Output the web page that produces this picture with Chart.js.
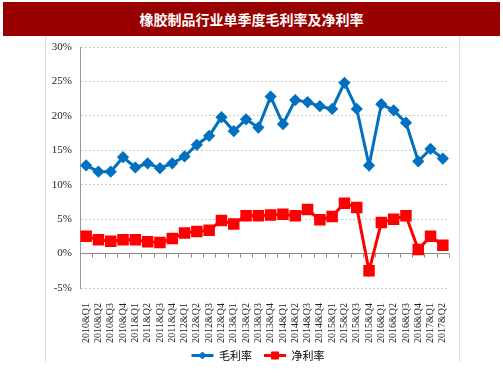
<!DOCTYPE html>
<html><head><meta charset="utf-8">
<script src="https://cdn.jsdelivr.net/npm/chart.js@4/dist/chart.umd.min.js"></script>
<style>
html,body{margin:0;padding:0;background:#fff;}
#wrap{position:relative;width:503px;height:378px;overflow:hidden;}
#title{position:absolute;left:3px;top:2px;width:497px;height:34px;background:#990000;color:#fff;
font:bold 14px "Noto Sans CJK SC",sans-serif;text-align:center;line-height:34px;}
#frame{position:absolute;left:45px;top:36px;width:413px;height:326px;border-left:1px solid #dedede;border-right:1px solid #dedede;}
#c{position:absolute;left:0;top:0;}
</style></head>
<body><div id="wrap"><div id="title">橡胶制品行业单季度毛利率及净利率</div><div id="frame"></div>
<canvas id="c" width="503" height="378"></canvas></div>
<script>
const categories = ["2010&Q1","2010&Q2","2010&Q3","2010&Q4","2011&Q1","2011&Q2","2011&Q3","2011&Q4",
"2012&Q1","2012&Q2","2012&Q3","2012&Q4","2013&Q1","2013&Q2","2013&Q3","2013&Q4",
"2014&Q1","2014&Q2","2014&Q3","2014&Q4","2015&Q1","2015&Q2","2015&Q3","2015&Q4",
"2016&Q1","2016&Q2","2016&Q3","2016&Q4","2017&Q1","2017&Q2"];
const grossMargin = [12.8,11.9,11.9,14.0,12.5,13.1,12.4,13.1,14.1,15.8,17.1,19.8,17.8,19.5,18.3,22.8,
18.8,22.3,22.0,21.4,21.0,24.8,21.0,12.8,21.7,20.8,19.0,13.4,15.2,13.8];
const netMargin = [2.5,2.0,1.8,2.0,2.0,1.7,1.6,2.2,3.0,3.2,3.4,4.8,4.3,5.5,5.5,5.6,
5.7,5.5,6.4,4.9,5.4,7.3,6.7,-2.5,4.5,5.0,5.5,0.6,2.5,1.2];
const yTicks = [-5,0,5,10,15,20,25,30];
const seriesNames = ["毛利率","净利率"];

const zeroTicks = {
  id:'zeroTicks',
  beforeDatasetsDraw(chart){
    const xs = chart.scales.x, ys = chart.scales.y, ctx = chart.ctx;
    const step = xs.getPixelForValue(1) - xs.getPixelForValue(0);
    const y0 = ys.getPixelForValue(0);
    ctx.save();
    ctx.strokeStyle = '#8c8c8c'; ctx.lineWidth = 1;
    ctx.beginPath();
    for (let i = 0; i <= categories.length; i++) {
      const x = Math.round(xs.getPixelForValue(i) - step/2) + 0.5;
      ctx.moveTo(x, y0); ctx.lineTo(x, y0 + 4);
    }
    ctx.stroke();
    ctx.restore();
  }
};
const legendShift = {
  id:'legendShift',
  beforeDraw(chart){
    const lg = chart.legend; if (!lg || lg._shifted) return;
    const dx = 11, dy = -6;
    lg.left += dx; lg.right += dx; lg.top += dy; lg.bottom += dy;
    (lg.legendHitBoxes||[]).forEach(b=>{ b.left += dx; b.top += dy; });
    lg._shifted = true;
  },
  afterDraw(chart){
    const lg = chart.legend; if (!lg || !lg.legendHitBoxes) return;
    const ctx = chart.ctx;
    lg.legendHitBoxes.forEach((b,i)=>{
      const ds = chart.data.datasets[i];
      const cx = b.left + 11, cy = b.top + b.height/2;
      ctx.save();
      ctx.fillStyle = ds.borderColor; ctx.strokeStyle = ds.borderColor;
      Chart.helpers.drawPoint(ctx, {pointStyle: ds.pointStyle, radius: ds.pointStyle==='rect'?5:3.5, borderWidth: 1, rotation: 0}, cx, cy);
      ctx.restore();
    });
  }
};

new Chart(document.getElementById('c'), {
  type:'line',
  data:{labels:categories, datasets:[
    {label:seriesNames[0], data:grossMargin, borderColor:'#0070C0', backgroundColor:'#0070C0', borderWidth:3,
     pointStyle:'rectRot', pointRadius:4, pointHoverRadius:4, pointBackgroundColor:'#0070C0', pointBorderColor:'#0070C0', tension:0},
    {label:seriesNames[1], data:netMargin, borderColor:'#FF0000', backgroundColor:'#FF0000', borderWidth:3,
     pointStyle:'rect', pointRadius:6, pointHoverRadius:6, pointBackgroundColor:'#FF0000', pointBorderColor:'#FF0000', tension:0}
  ]},
  options:{
    responsive:false, animation:false, devicePixelRatio:1,
    layout:{padding:{left:45,right:54,top:47,bottom:1}},
    plugins:{
      legend:{position:'bottom', labels:{
        boxWidth:22, boxHeight:3, padding:12, color:'#333',
        font:{family:'"Noto Sans CJK SC", sans-serif', size:11},
        generateLabels(chart){
          return chart.data.datasets.map((d,i)=>({text:d.label, fillStyle:d.borderColor, strokeStyle:d.borderColor, lineWidth:0, datasetIndex:i, hidden:false}));
        }
      }},
      tooltip:{enabled:false}
    },
    scales:{
      x:{offset:true,
        grid:{display:false},
        border:{display:false},
        ticks:{minRotation:90, maxRotation:90, autoSkip:false, color:'#222', padding:7,
          font:{family:'"Liberation Serif", serif', size:10}},
        afterFit(s){ s.height = 56; }
      },
      y:{min:-5, max:30,
        afterBuildTicks(s){ s.ticks = yTicks.map(v=>({value:v})); },
        grid:{color(ctx){ return ctx.tick && ctx.tick.value===0 ? '#8c8c8c' : '#c8c8c8'; }, drawTicks:false, lineWidth:1},
        border:{display:true, color:'#9a9a9a', width:1,
          dash(ctx){ return ctx.tick && ctx.tick.value!==0 ? [2,2] : []; }},
        ticks:{color:'#222', padding:8, font:{family:'"Liberation Serif", serif', size:11},
          callback:v=>v+'%'},
        afterFit(s){ s.width = 35; }
      }
    }
  },
  plugins:[zeroTicks, legendShift]
});
</script></body></html>
